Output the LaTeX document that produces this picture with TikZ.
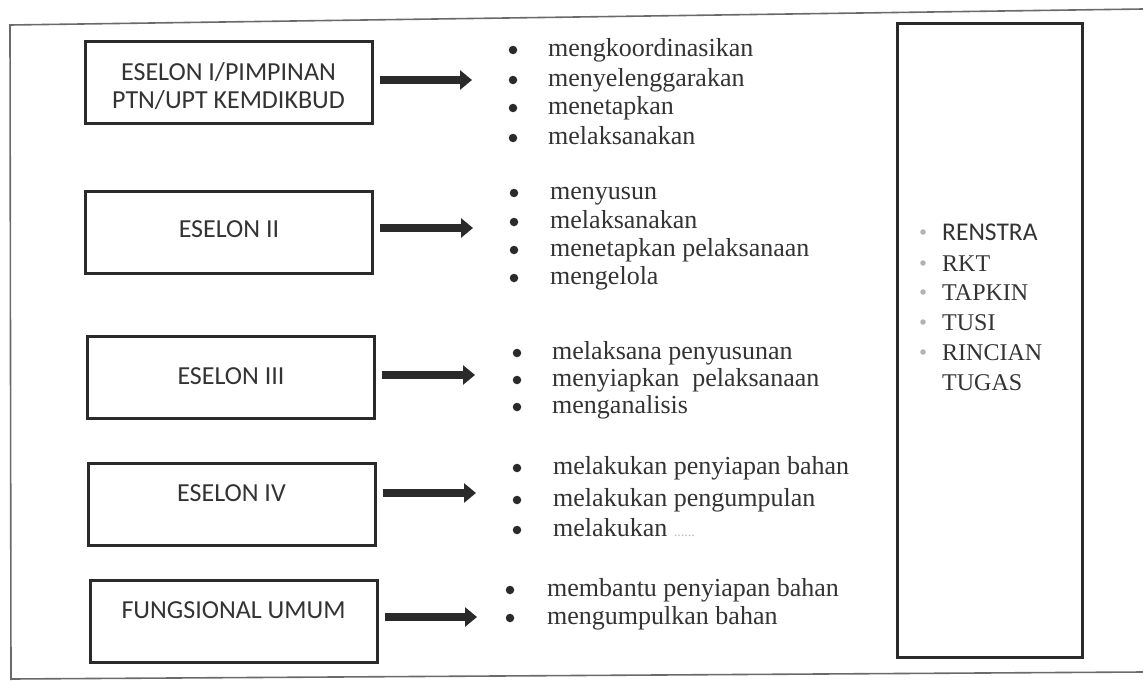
\documentclass[tikz,border=0pt]{standalone}
\usepackage{fontspec}
\setmainfont{Liberation Serif}
\newfontfamily\carlitofont{Carlito}
\usetikzlibrary{arrows.meta}
\definecolor{ink}{HTML}{2A2A2A}
\definecolor{txt}{HTML}{333333}
\definecolor{framegrey}{HTML}{6A6A6A}
\tikzset{
  ebox/.style={draw=ink, line width=3pt, minimum width=287pt, minimum height=82pt, inner sep=0pt},
  elabel/.style={font=\carlitofont\fontsize{26}{30}\selectfont, text=txt, inner sep=0pt, align=center},
  bigarrow/.style={draw=ink, line width=8pt, -{Triangle[length=12pt, width=19pt]}},
  bul/.style={circle, fill=ink, minimum size=8.5pt, inner sep=0pt},
  itm/.style={font=\fontsize{26}{30}\selectfont, text=txt, inner sep=0pt, anchor=base west, yshift=-6pt},
  rbul/.style={circle, fill=gray!60, minimum size=5.5pt, inner sep=0pt},
  ritm/.style={font=\fontsize{24}{28}\selectfont, text=txt, inner sep=0pt, anchor=base west, yshift=-8pt},
}
\begin{document}
\begin{tikzpicture}[x=1pt, y=-1pt]
\useasboundingbox[fill=white] (0,0) rectangle (1143,680);
% outer frame (open at the right)
\draw[framegrey, line width=1.6pt] (1143,9) -- (10,25) -- (11,680);
\draw[framegrey, line width=1.6pt] (11,679) -- (1143,672);

% boxes
\node[ebox] (b1) at (228.5,82) {};
\node[ebox] (b2) at (229,232) {};
\node[ebox] (b3) at (231,377.5) {};
\node[ebox] (b4) at (231.5,504) {};
\node[ebox] (b5) at (233.5,621) {};

\node[elabel] (l1a) at (228.5,72) {ESELON I/PIMPINAN};
\node[elabel] (l1b) at (228.5,100) {PTN/UPT KEMDIKBUD};
\node[elabel] (l2) at (229,229) {ESELON II};
\node[elabel] (l3) at (231,376) {ESELON III};
\node[elabel] (l4) at (231.5,493) {ESELON IV};
\node[elabel] (l5) at (233.5,610) {FUNGSIONAL UMUM};

% arrows
\coordinate (a1) at (472,80);
\coordinate (a2) at (473,228);
\coordinate (a3) at (475,375);
\coordinate (a4) at (476,493);
\coordinate (a5) at (477,617);
\draw[bigarrow] ([xshift=6pt]b1.east |- a1) -- (a1);
\draw[bigarrow] ([xshift=6pt]b2.east |- a2) -- (a2);
\draw[bigarrow] ([xshift=6pt]b3.east |- a3) -- (a3);
\draw[bigarrow] ([xshift=6pt]b4.east |- a4) -- (a4);
\draw[bigarrow] ([xshift=6pt]b5.east |- a5) -- (a5);

% group 1
\node[bul] (g1b1) at (513,50) {};
\node[itm] (g1t1) at (548,50) {mengkoordinasikan};
\node[bul] (g1b2) at (513,80) {};
\node[itm] (g1t2) at (548,80) {menyelenggarakan};
\node[bul] (g1b3) at (513,108) {};
\node[itm] (g1t3) at (548,108) {menetapkan};
\node[bul] (g1b4) at (513,138) {};
\node[itm] (g1t4) at (548,138) {melaksanakan};
% group 2
\node[bul] (g2b1) at (514,193) {};
\node[itm] (g2t1) at (550,193) {menyusun};
\node[bul] (g2b2) at (514,222) {};
\node[itm] (g2t2) at (550,222) {melaksanakan};
\node[bul] (g2b3) at (514,250) {};
\node[itm] (g2t3) at (550,250) {menetapkan pelaksanaan};
\node[bul] (g2b4) at (514,278) {};
\node[itm] (g2t4) at (550,278) {mengelola};
% group 3
\node[bul] (g3b1) at (517,353) {};
\node[itm] (g3t1) at (552,353) {melaksana penyusunan};
\node[bul] (g3b2) at (517,380) {};
\node[itm] (g3t2) at (552,380) {menyiapkan\ \ pelaksanaan};
\node[bul] (g3b3) at (517,407) {};
\node[itm] (g3t3) at (552,407) {menganalisis};
% group 4
\node[bul] (g4b1) at (517,468) {};
\node[itm] (g4t1) at (553,468) {melakukan penyiapan bahan};
\node[bul] (g4b2) at (517,500) {};
\node[itm] (g4t2) at (553,500) {melakukan pengumpulan};
\node[bul] (g4b3) at (517,530) {};
\node[itm] (g4t3) at (553,530) {melakukan \textcolor{gray!55}{\fontsize{14}{16}\selectfont ......}};
% group 5
\node[bul] (g5b1) at (510,590) {};
\node[itm] (g5t1) at (547,590) {membantu penyiapan bahan};
\node[bul] (g5b2) at (510,618) {};
\node[itm] (g5t2) at (547,618) {mengumpulkan bahan};

% right box
\node[draw=ink, line width=3pt, minimum width=185pt, minimum height=634pt, inner sep=0pt] (rb) at (989.5,340) {};
\node[rbul] (rb1) at (923,232) {};
\node[ritm, font=\carlitofont\fontsize{25.5}{28}\selectfont] (r1) at (942,232) {RENSTRA};
\node[rbul] (rb2) at (923,263) {};
\node[ritm] (r2) at (942,263) {RKT};
\node[rbul] (rb3) at (923,292) {};
\node[ritm] (r3) at (942,292) {TAPKIN};
\node[rbul] (rb4) at (923,322) {};
\node[ritm] (r4) at (942,322) {TUSI};
\node[rbul] (rb5) at (923,352) {};
\node[ritm] (r5) at (942,352) {RINCIAN};
\node[ritm] (r6) at (942,382) {TUGAS};
\end{tikzpicture}
\end{document}
